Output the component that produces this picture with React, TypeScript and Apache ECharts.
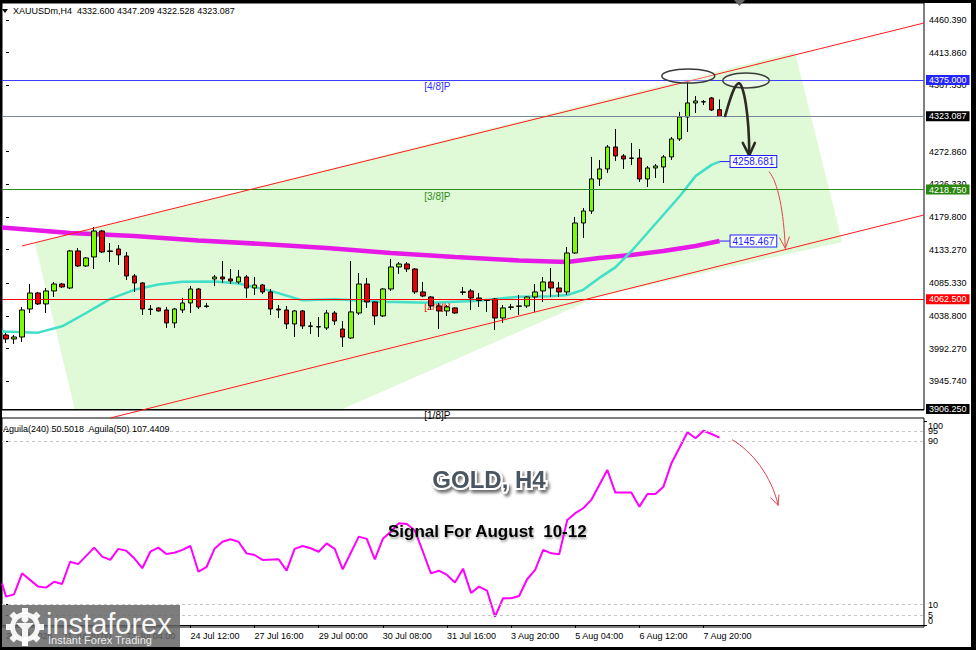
import React, { useEffect, useRef } from "react";
import * as echarts from "echarts";

const FONT = '"Liberation Sans", Arial, sans-serif';

const SYMBOL = "XAUUSDm,H4";
const LAST_OHLC = ["4332.600", "4347.209", "4322.528", "4323.087"];
const INDICATOR_TITLE = "Aguila(240) 50.5018  Aguila(50) 107.4409";
const TITLE = "GOLD, H4";
const SUBTITLE = "Signal For August  10-12";

const SLOT_COUNT = 115;
const slots = Array.from({ length: SLOT_COUNT }, (_, i) => String(i));

// [open, close, low, high]
const candles = [
  [4011.7, 4006.0, 4000.3, 4014.5], [4006.0, 4008.8, 3998.9, 4011.7], [4008.8, 4047.3, 4001.7, 4051.6],
  [4048.7, 4071.5, 4043.0, 4084.3], [4071.5, 4055.9, 4054.4, 4073.0], [4055.9, 4074.4, 4043.0, 4078.6],
  [4074.4, 4084.3, 4065.8, 4087.2], [4084.3, 4080.1, 4078.6, 4085.8], [4078.6, 4131.4, 4077.2, 4132.8],
  [4131.4, 4110.0, 4108.6, 4135.6], [4110.0, 4121.4, 4108.6, 4122.8], [4122.8, 4159.8, 4105.7, 4165.5],
  [4159.8, 4129.9, 4128.5, 4161.3], [4131.4, 4130.6, 4115.7, 4142.7], [4134.2, 4125.7, 4111.4, 4139.9],
  [4124.2, 4095.7, 4090.0, 4129.9], [4095.7, 4085.8, 4073.0, 4098.6], [4085.8, 4048.7, 4040.2, 4086.5],
  [4048.7, 4048.0, 4040.2, 4054.4], [4050.2, 4045.9, 4045.0, 4051.0], [4047.3, 4028.8, 4021.7, 4051.6],
  [4028.8, 4048.7, 4021.7, 4050.2], [4047.3, 4057.3, 4043.0, 4064.4], [4057.3, 4077.2, 4043.0, 4081.5],
  [4077.2, 4051.6, 4048.7, 4078.6], [4053.0, 4052.4, 4050.2, 4057.3], [4091.5, 4094.3, 4081.5, 4097.2],
  [4094.3, 4091.5, 4085.8, 4117.1], [4091.5, 4088.6, 4084.3, 4105.7], [4087.2, 4094.3, 4084.3, 4104.3],
  [4094.3, 4078.6, 4064.4, 4097.2], [4078.6, 4082.9, 4068.7, 4094.3], [4082.9, 4073.0, 4070.1, 4084.3],
  [4073.0, 4048.7, 4040.2, 4077.2], [4048.7, 4047.3, 4035.9, 4054.4], [4047.3, 4027.4, 4020.2, 4053.0],
  [4027.4, 4045.9, 4008.8, 4047.3], [4045.9, 4024.5, 4020.2, 4047.3], [4024.5, 4024.0, 4013.1, 4030.2],
  [4023.5, 4023.1, 4008.8, 4037.3], [4021.7, 4043.0, 4018.8, 4047.3], [4043.0, 4031.6, 4025.9, 4045.9],
  [4020.2, 4008.8, 3994.6, 4031.6], [4007.4, 4044.5, 4006.0, 4117.1], [4043.0, 4084.3, 4040.2, 4100.0],
  [4084.3, 4058.7, 4050.2, 4092.9], [4058.7, 4038.8, 4026.0, 4059.5], [4038.8, 4077.2, 4037.3, 4078.6],
  [4077.2, 4108.6, 4074.4, 4120.0], [4108.6, 4112.8, 4098.6, 4115.7], [4112.8, 4105.7, 4101.4, 4115.7],
  [4105.7, 4073.0, 4070.1, 4107.1], [4073.0, 4067.2, 4065.8, 4087.2], [4065.8, 4053.0, 4047.3, 4067.2],
  [4053.0, 4045.9, 4020.2, 4057.3], [4045.9, 4051.6, 4038.8, 4054.4], [4050.2, 4043.0, 4042.0, 4051.0],
  [4073.0, 4072.4, 4068.7, 4080.1], [4074.4, 4064.4, 4047.3, 4077.2], [4064.4, 4060.8, 4051.6, 4071.5],
  [4061.5, 4061.0, 4044.5, 4063.0], [4063.0, 4035.9, 4018.8, 4064.4], [4035.9, 4050.2, 4028.8, 4054.4],
  [4051.6, 4051.1, 4047.3, 4055.9], [4053.0, 4052.5, 4040.2, 4068.7], [4053.0, 4065.8, 4050.2, 4067.2],
  [4065.8, 4073.0, 4044.5, 4084.3], [4074.4, 4087.2, 4058.7, 4094.3], [4087.2, 4078.6, 4065.8, 4107.1],
  [4078.6, 4073.0, 4065.8, 4087.2], [4073.0, 4128.5, 4068.7, 4137.0], [4128.5, 4171.2, 4127.1, 4179.8],
  [4171.2, 4188.3, 4149.9, 4192.6], [4188.3, 4233.9, 4184.1, 4265.3], [4233.9, 4248.2, 4223.9, 4261.0],
  [4248.2, 4279.5, 4242.5, 4282.3], [4279.5, 4266.7, 4259.6, 4305.1], [4266.7, 4262.4, 4248.2, 4269.5],
  [4263.8, 4263.3, 4253.9, 4285.2], [4263.8, 4233.9, 4229.6, 4276.6], [4233.9, 4249.6, 4222.5, 4252.4],
  [4249.6, 4252.4, 4235.3, 4255.3], [4251.0, 4265.3, 4228.2, 4268.1], [4265.3, 4290.9, 4261.0, 4293.7],
  [4290.9, 4322.2, 4288.0, 4329.4], [4322.2, 4342.2, 4300.9, 4372.1], [4342.2, 4345.0, 4327.9, 4352.1],
  [4343.6, 4344.0, 4339.3, 4346.4], [4349.3, 4332.2, 4330.8, 4350.7], [4332.6, 4323.087, 4322.528, 4347.209],
];

// slow moving average (magenta) [bar, price]
const ma240 = [
  [-0.5, 4164.8], [8, 4157.0], [16, 4152.7], [24, 4146.3], [32, 4141.3], [40, 4135.6], [48, 4128.5],
  [56, 4122.8], [64, 4117.8], [70, 4115.7], [74, 4121.4], [78, 4125.7], [82, 4131.4], [86, 4138.5],
  [89, 4145.467],
];
// fast moving average (turquoise)
const ma50 = [
  [-0.5, 4016.5], [4, 4015.0], [7, 4024.0], [10, 4043.0], [13, 4063.0], [16, 4076.0], [19, 4083.5],
  [22, 4087.6], [26, 4088.0], [29, 4085.0], [33, 4074.5], [37, 4061.0], [41, 4062.5], [47, 4059.0],
  [53, 4057.7], [59, 4060.5], [64, 4066.2], [68, 4067.0], [70, 4068.7], [72, 4076.0], [74, 4093.0],
  [76, 4108.0], [78, 4131.0], [80, 4157.0], [82, 4183.0], [84, 4209.0], [86, 4238.0], [88, 4254.0],
  [89, 4258.681],
];
// oscillator (lower panel)
const aguila = [
  [-0.5, 20.4], [0, 13.9], [1, 15.0], [2, 25.3], [4, 18.8], [5, 18.3], [6, 21.2], [7, 20.1], [8, 31.0],
  [9, 29.8], [11, 37.9], [12, 33.5], [13, 31.9], [14, 37.3], [15, 36.4], [16, 32.7], [17, 27.8],
  [18, 35.9], [19, 37.9], [20, 34.8], [21, 35.4], [22, 36.8], [23, 38.7], [24, 26.1], [25, 28.3],
  [26, 37.3], [27, 40.8], [28, 42.0], [29, 40.8], [30, 35.1], [31, 34.3], [32, 31.9], [34, 32.2],
  [35, 26.6], [36, 37.3], [37, 38.7], [38, 37.6], [39, 35.9], [40, 40.0], [41, 37.3], [42, 27.3],
  [44, 43.3], [45, 42.2], [46, 32.2], [47, 42.2], [48, 45.7], [49, 49.9], [50, 49.5], [51, 46.3],
  [52, 35.9], [53, 25.3], [54, 26.6], [55, 24.5], [56, 20.8], [57, 27.6], [58, 15.7], [59, 18.8],
  [60, 16.8], [61, 4.1], [62, 13.1], [63, 13.1], [64, 14.2], [65, 22.4], [66, 27.0], [67, 36.8],
  [68, 35.1], [69, 34.7], [70, 51.5], [71, 54.8], [72, 57.2], [73, 61.3], [75, 76.0], [76, 64.9],
  [77, 64.9], [78, 64.9], [79, 58.0], [80, 64.2], [81, 64.2], [82, 67.8], [83, 79.3], [85, 94.5],
  [86, 91.5], [87, 95.2], [88, 93.6], [89, 91.8],
];

const priceTicks = [4460.39, 4413.86, 4367.33, 4272.86, 4226.33, 4179.8, 4133.27, 4085.33, 4038.8, 3992.27, 3945.74];
const timeLabelIdx = [0, 7, 15, 23, 31, 39, 47, 55, 63, 71, 79, 87];
const timeLabels = [
  "20 Jul 2026", "21 Jul 20:00", "23 Jul 04:00", "24 Jul 12:00", "27 Jul 16:00", "29 Jul 00:00",
  "30 Jul 08:00", "31 Jul 16:00", "3 Aug 20:00", "5 Aug 04:00", "6 Aug 12:00", "7 Aug 20:00",
];
const oscLevels = [95, 90, 10, 5];
const oscBounds = [100, 0];

const levels = [
  { value: 4375.0, text: "4375.000", line: "#3c3cff", bg: "#2424ff" },
  { value: 4323.087, text: "4323.087", line: "#778899", bg: "#000000" },
  { value: 4218.75, text: "4218.750", line: "#2e8b20", bg: "#2a860e" },
  { value: 4062.5, text: "4062.500", line: "#ff0000", bg: "#ff0000" },
  { value: 3906.25, text: "3906.250", line: "#000000", bg: "#000000" },
];
const murrey = [
  { value: 4375.0, text: "[4/8]P", color: "#3030ff" },
  { value: 4218.75, text: "[3/8]P", color: "#2e8b20" },
  { value: 4062.5, text: "[2/8]P", color: "#ff0000" },
  { value: 3906.25, text: "[1/8]P", color: "#000000" },
];
const MURREY_LABEL_IDX = 53.8;

// annotations in [bar, price]
const channelZone = [[3.6, 4142.7], [98.4, 4414.8], [104.3, 4144.2], [74.1, 4067.2], [41.7, 3904.8], [8.6, 3904.8]];
const upperTrend = [[2.0, 4138.5], [114.5, 4456.1]];
const lowerTrend = [[13.0, 3893.4], [114.5, 4182.6]];
const ellipses = [
  { c: [85.1, 4380.6], rx: 3.3, ry: 10.0 },
  { c: [92.3, 4374.2], rx: 2.9, ry: 10.7 },
];
const trendArrow = [[89.7, 4323.6], [90.2, 4343.6], [90.8, 4369.2], [91.4, 4370.2], [92.0, 4370.6], [92.7, 4325.1], [92.7, 4269.5]];
const trendArrowHead = [[91.9, 4285.2], [92.7, 4267.5], [93.4, 4285.2]];
const targetArrow = [[95.2, 4243.9], [96.3, 4229.6], [97.0, 4186.9], [97.2, 4135.6]];
const targetArrowHead = [[96.5, 4149.9], [97.2, 4135.0], [97.7, 4151.3]];
const oscArrow = [[90.6, 90.7], [93.0, 85.3], [95.5, 73.0], [96.3, 58.8]];
const oscArrowHead = [[95.4, 62.3], [96.3, 58.6], [96.4, 63.7]];

const maTags = [
  { idx: 89, value: ma50[ma50.length - 1][1] },
  { idx: 89, value: ma240[ma240.length - 1][1] },
];

function App() {
  const ref = useRef<HTMLDivElement>(null);

  useEffect(() => {
    document.body.style.margin = "0";
    if (!ref.current) return;
    const chart = echarts.init(ref.current, null, { renderer: "svg" });

    const renderZone = (_p: any, api: any) => {
      const pts = channelZone.map((p) => api.coord(p));
      const children: any[] = [
        { type: "polygon", shape: { points: pts }, style: { fill: "rgba(160,235,130,0.32)" } },
      ];
      murrey.forEach((m) => {
        const p = api.coord([MURREY_LABEL_IDX, m.value]);
        children.push({
          type: "text",
          x: p[0],
          y: p[1] + 2,
          style: { text: m.text, fill: m.color, font: `10px ${FONT}`, align: "center", verticalAlign: "top" },
        });
      });
      return { type: "group", children };
    };

    const curvePieces = (api: any, pts: number[][], stroke: string, lw: number) => {
      const out: any[] = [];
      for (let i = 0; i + 3 < pts.length; i += 3) {
        const a = api.coord(pts[i]);
        const b = api.coord(pts[i + 1]);
        const d = api.coord(pts[i + 2]);
        const e = api.coord(pts[i + 3]);
        out.push({
          type: "bezierCurve",
          shape: { x1: a[0], y1: a[1], cpx1: b[0], cpy1: b[1], cpx2: d[0], cpy2: d[1], x2: e[0], y2: e[1] },
          style: { stroke, lineWidth: lw, fill: null, lineCap: "round" },
        });
      }
      return out;
    };
    const head = (api: any, pts: number[][], stroke: string, lw: number) => ({
      type: "polyline",
      shape: { points: pts.map((p) => api.coord(p)) },
      style: { stroke, lineWidth: lw, fill: null, lineJoin: "round", lineCap: "round" },
    });

    const renderOverlay = (_p: any, api: any) => {
      const ch: any[] = [];
      const seg = (a: number[], b: number[], stroke: string, lw: number) => {
        const p = api.coord(a);
        const q = api.coord(b);
        ch.push({ type: "line", shape: { x1: p[0], y1: p[1], x2: q[0], y2: q[1] }, style: { stroke, lineWidth: lw } });
      };
      seg(upperTrend[0], upperTrend[1], "#ff1a1a", 1);
      seg(lowerTrend[0], lowerTrend[1], "#ff1a1a", 1);
      ellipses.forEach((e) => {
        const p = api.coord(e.c);
        const s = api.size([e.rx, e.ry]);
        ch.push({
          type: "ellipse",
          shape: { cx: p[0], cy: p[1], rx: s[0], ry: s[1] },
          style: { fill: "rgba(255,255,255,0.35)", stroke: "#3a3a3a", lineWidth: 1.5 },
        });
      });
      ch.push(...curvePieces(api, trendArrow, "#2b2b22", 2.6));
      ch.push(head(api, trendArrowHead, "#2b2b22", 2.6));
      ch.push(...curvePieces(api, targetArrow, "#e8404f", 1));
      ch.push(head(api, targetArrowHead, "#e8404f", 1));
      maTags.forEach((t) => {
        const p = api.coord([t.idx, t.value]);
        ch.push({
          type: "line",
          shape: { x1: p[0], y1: p[1], x2: p[0] + 11, y2: p[1] },
          style: { stroke: "#2020ff", lineWidth: 1 },
        });
        ch.push({
          type: "text",
          x: p[0] + 11,
          y: p[1],
          style: {
            text: t.value.toFixed(3),
            fill: "#2020ff",
            font: `10px ${FONT}`,
            align: "left",
            verticalAlign: "middle",
            backgroundColor: "#ffffff",
            borderColor: "#2020ff",
            borderWidth: 1,
            padding: [1, 2, 0, 2],
          },
        });
      });
      return { type: "group", children: ch };
    };

    const renderOscOverlay = (_p: any, api: any) => ({
      type: "group",
      children: [...curvePieces(api, oscArrow, "#e8404f", 1), head(api, oscArrowHead, "#e8404f", 1)],
    });

    const gearTeeth = Array.from({ length: 8 }, (_, k) => ({
      type: "rect",
      x: 25,
      y: 627,
      rotation: (k * Math.PI) / 4,
      shape: { x: -3, y: -19, width: 6, height: 6 },
      style: { fill: "rgba(255,255,255,0.92)" },
      z: 101,
    }));

    const oscAxisBase = {
      type: "value",
      gridIndex: 1,
      position: "right",
      min: -1,
      max: 101.45,
      splitLine: { show: false },
      axisLine: { show: false },
    };

    const option: any = {
      animation: false,
      grid: [
        { left: 2, top: 3, width: 922, height: 407, show: true, borderColor: "#000", borderWidth: 1, backgroundColor: "transparent" },
        { left: 2, top: 418, width: 922, height: 209, show: true, borderColor: "#000", borderWidth: 1, backgroundColor: "transparent" },
      ],
      xAxis: [
        { type: "category", gridIndex: 0, data: slots, boundaryGap: true, show: false },
        { type: "value", gridIndex: 0, min: -0.5, max: SLOT_COUNT - 0.5, show: false },
        {
          type: "value",
          gridIndex: 1,
          min: -0.5,
          max: SLOT_COUNT - 0.5,
          position: "bottom",
          splitLine: { show: false },
          axisLine: { show: true, lineStyle: { color: "#000", width: 1 } },
          axisTick: { show: true, length: 3, lineStyle: { color: "#000" }, customValues: timeLabelIdx.slice(1) },
          axisLabel: {
            customValues: timeLabelIdx,
            formatter: (v: number) => timeLabels[timeLabelIdx.indexOf(v)] ?? "",
            align: "left",
            margin: 4,
            color: "#000",
            fontSize: 9,
            fontFamily: FONT,
            showMinLabel: true,
            showMaxLabel: true,
          },
        },
      ],
      yAxis: [
        {
          type: "value",
          gridIndex: 0,
          position: "right",
          min: 3904.8,
          max: 4484.6,
          splitLine: { show: false },
          axisLine: { show: false },
          axisTick: { show: true, length: 3, lineStyle: { color: "#000" }, customValues: priceTicks },
          axisLabel: {
            customValues: priceTicks,
            formatter: (v: number) => v.toFixed(3),
            color: "#000",
            fontSize: 9,
            fontFamily: FONT,
            margin: 5,
            showMinLabel: true,
            showMaxLabel: true,
          },
        },
        {
          ...oscAxisBase,
          axisTick: { show: true, length: 3, lineStyle: { color: "#000" }, customValues: oscLevels },
          axisLabel: {
            customValues: oscLevels,
            color: "#000",
            fontSize: 9,
            fontFamily: FONT,
            margin: 4,
            showMinLabel: true,
            showMaxLabel: true,
          },
        },
        {
          ...oscAxisBase,
          axisTick: { show: true, length: 3, lineStyle: { color: "#000" }, customValues: oscBounds },
          axisLabel: {
            customValues: oscBounds,
            formatter: (v: number) => (v === oscBounds[0] ? `{a|${v}}` : `{b|${v}}`),
            rich: {
              a: { padding: [10, 0, 0, 0], fontSize: 9, fontFamily: FONT, color: "#000" },
              b: { padding: [0, 0, 8, 0], fontSize: 9, fontFamily: FONT, color: "#000" },
            },
            color: "#000",
            fontSize: 9,
            fontFamily: FONT,
            margin: 4,
            showMinLabel: true,
            showMaxLabel: true,
          },
        },
      ],
      series: [
        {
          type: "custom",
          xAxisIndex: 1,
          yAxisIndex: 0,
          z: 1,
          clip: false,
          silent: true,
          renderItem: renderZone,
          data: [[50, 4200]],
        },
        {
          type: "line",
          xAxisIndex: 1,
          yAxisIndex: 0,
          data: ma240,
          showSymbol: false,
          z: 2,
          silent: true,
          lineStyle: { color: "#e619e6", width: 4.5 },
        },
        {
          type: "line",
          xAxisIndex: 1,
          yAxisIndex: 0,
          data: ma50,
          showSymbol: false,
          z: 2,
          silent: true,
          lineStyle: { color: "#40e0c8", width: 2.5 },
        },
        {
          type: "candlestick",
          xAxisIndex: 0,
          yAxisIndex: 0,
          data: candles,
          barWidth: 5,
          z: 3,
          silent: true,
          itemStyle: {
            color: "#7cfc00",
            color0: "#e60000",
            borderColor: "#000",
            borderColor0: "#000",
            borderWidth: 1,
          },
          markLine: {
            silent: true,
            symbol: ["none", "none"],
            animation: false,
            label: {
              show: true,
              position: "end",
              distance: 2,
              fontSize: 9,
              fontFamily: FONT,
              color: "#fff",
              padding: [1, 3, 0, 3],
            },
            data: levels.map((l) => ({
              yAxis: l.value,
              lineStyle: { color: l.line, width: 1, type: "solid" },
              label: { formatter: l.text, backgroundColor: l.bg, color: "#fff" },
            })),
          },
        },
        {
          type: "custom",
          xAxisIndex: 1,
          yAxisIndex: 0,
          z: 5,
          clip: false,
          silent: true,
          renderItem: renderOverlay,
          data: [[50, 4200]],
        },
        {
          type: "line",
          xAxisIndex: 2,
          yAxisIndex: 1,
          data: aguila,
          showSymbol: false,
          z: 3,
          silent: true,
          lineStyle: { color: "#ff00ff", width: 2 },
          markLine: {
            silent: true,
            symbol: ["none", "none"],
            animation: false,
            label: { show: false },
            lineStyle: { color: "#c4c4c4", width: 1, type: [3, 3] },
            data: oscLevels.map((v) => ({ yAxis: v })),
          },
        },
        {
          type: "custom",
          xAxisIndex: 2,
          yAxisIndex: 1,
          z: 5,
          clip: false,
          silent: true,
          renderItem: renderOscOverlay,
          data: [[50, 50]],
        },
      ],
      graphic: [
        { type: "polygon", shape: { points: [[734, 0], [745, 0], [739.5, 6]] }, style: { fill: "#666" }, z: 100 },
        { type: "polygon", shape: { points: [[2, 9], [8, 9], [5, 13]] }, style: { fill: "#000" }, z: 100 },
        {
          type: "text",
          x: 13,
          y: 11,
          z: 100,
          style: { text: `${SYMBOL}  ${LAST_OHLC.join(" ")}`, font: `9px ${FONT}`, fill: "#000", align: "left", verticalAlign: "middle" },
        },
        {
          type: "text",
          x: 3,
          y: 429,
          z: 100,
          style: { text: INDICATOR_TITLE, font: `9px ${FONT}`, fill: "#000", align: "left", verticalAlign: "middle" },
        },
        {
          type: "text",
          x: 489,
          y: 479,
          z: 100,
          style: {
            text: TITLE,
            font: `bold 24px ${FONT}`,
            fill: "#4a5560",
            stroke: "#ffffff",
            lineWidth: 4,
            align: "center",
            verticalAlign: "middle",
            textShadowColor: "rgba(0,0,0,0.55)",
            textShadowBlur: 3,
            textShadowOffsetX: 2,
            textShadowOffsetY: 3,
          },
        },
        {
          type: "text",
          x: 388,
          y: 531,
          z: 100,
          style: {
            text: SUBTITLE,
            font: `bold 17px ${FONT}`,
            fill: "#000",
            align: "left",
            verticalAlign: "middle",
            textShadowColor: "rgba(0,0,0,0.35)",
            textShadowBlur: 2,
            textShadowOffsetX: 1,
            textShadowOffsetY: 2,
          },
        },
        { type: "rect", shape: { x: 2, y: 605, width: 178, height: 42 }, style: { fill: "rgba(100,100,100,0.84)" }, z: 100 },
        ...gearTeeth,
        { type: "ring", shape: { cx: 25, cy: 627, r: 15, r0: 10 }, style: { fill: "rgba(255,255,255,0.92)" }, z: 101 },
        { type: "circle", shape: { cx: 25, cy: 619, r: 3.5 }, style: { fill: "rgba(255,255,255,0.92)" }, z: 101 },
        { type: "polygon", shape: { points: [[16, 623], [34, 623], [28, 629], [28, 646], [22, 646], [22, 629]] }, style: { fill: "rgba(255,255,255,0.92)" }, z: 101 },
        {
          type: "text",
          x: 46,
          y: 624,
          z: 101,
          style: { text: "instaforex", font: `29px ${FONT}`, fill: "rgba(255,255,255,0.95)", align: "left", verticalAlign: "middle" },
        },
        {
          type: "text",
          x: 48,
          y: 640,
          z: 101,
          style: { text: "Instant Forex Trading", font: `11px ${FONT}`, fill: "rgba(255,255,255,0.88)", align: "left", verticalAlign: "middle" },
        },
      ],
    };

    chart.setOption(option);
    return () => chart.dispose();
  }, []);

  return (
    <div style={{ position: "relative", width: 976, height: 650, background: "#000", overflow: "hidden" }}>
      <div style={{ position: "absolute", left: 2, top: 3, width: 969, height: 644, background: "#fff" }} />
      <div ref={ref} style={{ position: "absolute", left: 0, top: 0, width: 976, height: 650 }} />
    </div>
  );
}

export default App;
